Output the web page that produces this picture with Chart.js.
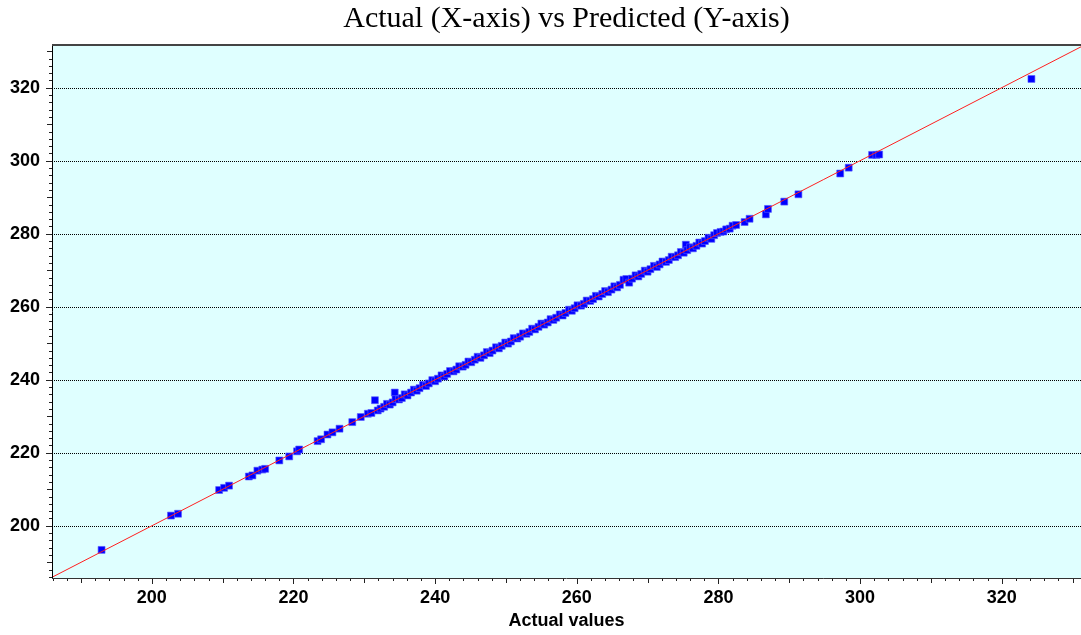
<!DOCTYPE html>
<html>
<head>
<meta charset="utf-8">
<script src="https://cdn.jsdelivr.net/npm/chart.js@4.4.0/dist/chart.umd.min.js"></script>
<style>
  html, body { margin: 0; padding: 0; background: #fff; overflow: hidden; }
  #wrap { width: 1081px; height: 635px; position: relative; }
</style>
</head>
<body>
<div id="wrap"><canvas id="scatterChart"></canvas></div>
<script>
// actual (x) and predicted (y) values
const actualValues = [
  192.9, 202.7, 203.7, 209.5, 210.2, 210.9, 213.7, 214.2, 214.9, 215.6, 216.0, 218.0, 219.4, 220.5, 220.8,
  223.4, 223.9, 224.8, 225.5, 226.5, 228.3, 229.5, 230.5, 231.0, 231.5, 231.9, 234.3,
  232.3, 232.8, 233.2, 233.6, 234.0, 234.4, 234.9, 235.3, 235.7, 236.1, 236.6, 237.0, 237.4, 237.8,
  238.3, 238.7, 239.1, 239.6, 240.0, 240.4, 240.9, 241.3, 241.7, 242.1, 242.6, 243.0, 243.4, 243.9,
  244.3, 244.7, 245.1, 245.6, 246.0, 246.4, 246.9, 247.3, 247.7, 248.1, 248.6, 249.0, 249.4, 249.9,
  250.3, 250.7, 251.1, 251.6, 252.0, 252.4, 252.9, 253.3, 253.7, 254.1, 254.6, 255.0, 255.4, 255.9,
  256.3, 256.7, 257.1, 257.6, 258.0, 258.4, 258.9, 259.3, 259.7, 260.1, 260.6, 261.0, 261.4, 261.9,
  262.3, 262.7, 263.1, 263.6, 264.0, 264.4, 264.9, 265.3, 265.7, 266.1, 266.6, 267.0, 267.4, 267.8,
  268.3, 268.7, 269.1, 269.6, 270.0, 270.4, 270.9, 271.3, 271.7, 272.1, 272.6, 273.0, 273.4, 273.9,
  274.3, 274.7, 275.1, 275.4, 275.6, 276.0, 276.4, 276.9, 277.3, 277.7, 278.1, 278.6, 279.0, 279.4,
  279.8, 280.3, 280.7, 281.1, 281.6, 282.0, 282.5,
  283.7, 284.4, 286.7, 287.0, 289.3, 291.3, 297.2, 298.4, 301.7, 302.3, 302.7, 324.2
];
const predictedValues = [
  193.4, 202.8, 203.3, 209.8, 210.4, 211.0, 213.5, 213.8, 215.1, 215.4, 215.6, 217.9, 219.0, 220.4, 220.9,
  223.2, 223.7, 225.0, 225.6, 226.6, 228.4, 229.8, 230.7, 230.9, 234.4, 231.6, 236.5,
  232.1, 232.6, 233.4, 233.2, 233.8, 234.7, 234.6, 235.0, 236.0, 235.7, 236.5, 237.3, 237.0, 237.7,
  238.6, 238.3, 239.0, 239.9, 239.6, 240.3, 241.2, 240.9, 241.6, 242.4, 242.3, 242.8, 243.7, 243.6,
  244.1, 245.0, 244.8, 245.5, 246.3, 246.0, 246.7, 247.6, 247.3, 248.0, 248.9, 248.6, 249.3, 250.2,
  249.9, 250.5, 251.4, 251.3, 251.8, 252.7, 252.6, 253.1, 254.0, 253.8, 254.5, 255.4, 255.1, 255.7,
  256.6, 256.4, 257.0, 257.9, 257.6, 258.3, 259.2, 258.9, 259.6, 260.4, 260.3, 260.8, 261.7, 261.6,
  262.1, 263.0, 262.8, 263.5, 264.3, 264.0, 264.7, 265.6, 265.3, 266.0, 267.4, 267.6, 266.6, 267.7,
  268.6, 268.3, 269.0, 269.9, 269.6, 270.3, 271.2, 270.9, 271.6, 272.4, 272.3, 272.8, 273.7, 273.6,
  274.1, 275.0, 274.8, 277.0, 275.5, 276.3, 276.0, 276.7, 277.6, 277.3, 278.0, 278.9, 278.6, 279.6,
  280.2, 280.5, 280.6, 281.2, 281.4, 282.2, 282.4,
  283.2, 284.1, 285.3, 286.8, 288.8, 290.8, 296.5, 298.1, 301.6, 301.6, 301.7, 322.4
];
// y = x reference line end points
const lineX = [185.9, 331.2];
const lineY = [185.9, 331.2];
const xTickValues = [200, 220, 240, 260, 280, 300, 320];
const yTickValues = [200, 220, 240, 260, 280, 300, 320];

const tickFont = { family: 'Liberation Sans, Arial, sans-serif', size: 18, weight: 'bold' };

// cyan plot background, frame, dotted grid and graded tick marks
const framePlugin = {
    id: 'framePlugin',
    beforeDatasetsDraw(chart) {
        const { ctx, chartArea: a, scales: { y } } = chart;
        ctx.save();
        ctx.fillStyle = '#DFFFFF';
        ctx.fillRect(a.left, a.top, a.right - a.left, a.bottom - a.top);
        ctx.strokeStyle = '#000';
        ctx.lineWidth = 1;
        ctx.setLineDash([1, 1]);
        yTickValues.forEach(v => {
            const py = Math.round(y.getPixelForValue(v)) + 0.5;
            ctx.beginPath();
            ctx.moveTo(a.left, py);
            ctx.lineTo(a.right, py);
            ctx.stroke();
        });
        ctx.restore();
    },
    afterDraw(chart) {
        const { ctx, chartArea: a, scales: { x, y } } = chart;
        ctx.save();
        ctx.strokeStyle = '#222';
        ctx.lineWidth = 1;
        // tick marks every 2 units, longer at 10 and 20
        for (let v = Math.ceil(x.min / 2) * 2; v <= x.max; v += 2) {
            const len = v % 20 === 0 ? 6 : (v % 10 === 0 ? 5 : 3);
            const px = Math.round(x.getPixelForValue(v)) + 0.5;
            ctx.beginPath();
            ctx.moveTo(px, a.bottom);
            ctx.lineTo(px, a.bottom + len);
            ctx.stroke();
        }
        for (let v = Math.ceil(y.min / 2) * 2; v <= y.max; v += 2) {
            const len = v % 20 === 0 ? 6 : (v % 10 === 0 ? 5 : 3);
            const py = Math.round(y.getPixelForValue(v)) + 0.5;
            ctx.beginPath();
            ctx.moveTo(a.left, py);
            ctx.lineTo(a.left - len, py);
            ctx.stroke();
        }
        // frame
        ctx.strokeStyle = '#000';
        ctx.beginPath();
        ctx.moveTo(a.left + 0.5, a.top);
        ctx.lineTo(a.left + 0.5, a.bottom);
        ctx.stroke();
        ctx.strokeStyle = '#333';
        ctx.beginPath();
        ctx.moveTo(a.left, a.bottom + 0.5);
        ctx.lineTo(a.right, a.bottom + 0.5);
        ctx.stroke();
        ctx.strokeStyle = '#444';
        ctx.lineWidth = 2;
        ctx.beginPath();
        ctx.moveTo(a.left, a.top);
        ctx.lineTo(a.right, a.top);
        ctx.stroke();
        ctx.restore();
    }
};

const ctxScatter = document.getElementById('scatterChart').getContext('2d');
new Chart(ctxScatter, {
    type: 'scatter',
    data: {
        datasets: [{
            type: 'line',
            label: 'y = x',
            data: lineX.map((v, i) => ({ x: v, y: lineY[i] })),
            borderColor: '#FF2020',
            borderWidth: 1,
            pointRadius: 0,
            fill: false,
            order: 0
        }, {
            label: 'Predicted',
            data: actualValues.map((v, i) => ({ x: v, y: predictedValues[i] })),
            backgroundColor: '#0000FF',
            borderColor: 'rgba(90, 90, 255, 0.6)',
            borderWidth: 1,
            pointStyle: 'rect',
            pointRadius: 4.9,
            order: 1
        }]
    },
    options: {
        responsive: true,
        maintainAspectRatio: false,
        animation: false,
        layout: { padding: 0, autoPadding: false },
        plugins: {
            legend: { display: false },
            tooltip: { enabled: false },
            title: {
                display: true,
                fullSize: false,
                text: 'Actual (X-axis) vs Predicted (Y-axis)',
                color: '#000',
                font: { family: 'Liberation Serif, Times New Roman, serif', size: 30, weight: 'normal' },
                padding: { top: 1, bottom: 8 }
            }
        },
        scales: {
            x: {
                type: 'linear',
                min: 185.9,
                max: 331.2,
                afterBuildTicks: scale => { scale.ticks = xTickValues.map(v => ({ value: v })); },
                afterFit: scale => { scale.height = 57; scale.paddingLeft = 0; scale.paddingRight = 0; },
                grid: { display: false, drawTicks: false },
                border: { display: false },
                ticks: { color: '#000', font: tickFont, padding: 9, autoSkip: false, maxRotation: 0 },
                title: {
                    display: true,
                    text: 'Actual values',
                    color: '#000',
                    font: tickFont,
                    padding: { top: 0, bottom: 3 }
                }
            },
            y: {
                type: 'linear',
                min: 185.7,
                max: 331.7,
                afterBuildTicks: scale => { scale.ticks = yTickValues.map(v => ({ value: v })); },
                afterFit: scale => { scale.width = 52; scale.paddingTop = 0; scale.paddingBottom = 0; },
                grid: { display: false, drawTicks: false },
                border: { display: false },
                ticks: { color: '#000', font: tickFont, padding: 12, autoSkip: false }
            }
        }
    },
    plugins: [framePlugin]
});
</script>
</body>
</html>
